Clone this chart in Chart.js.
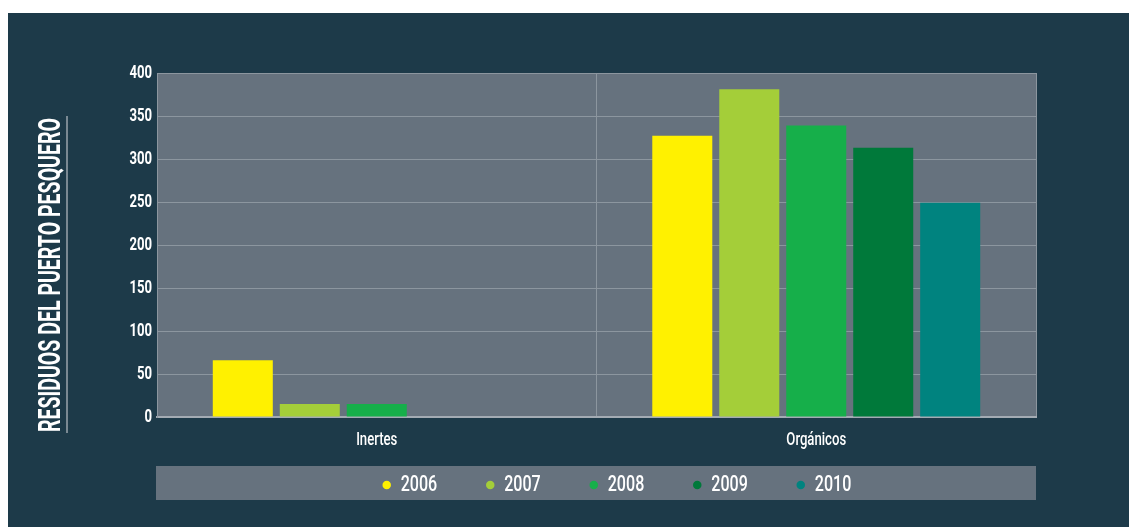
<!DOCTYPE html>
<html>
<head>
<meta charset="utf-8">
<script src="https://cdn.jsdelivr.net/npm/chart.js@4"></script>
<style>
  html, body { margin: 0; padding: 0; background: #ffffff; }
  #wrap { position: absolute; left: 8px; top: 13px; width: 1121px; height: 514px; background: #1D3A49; }
  canvas { display: block; }
</style>
</head>
<body>
<div id="wrap"><canvas id="c" width="1121" height="514"></canvas></div>
<script>
const categories = ["Inertes", "Orgánicos"];
const years = ["2006", "2007", "2008", "2009", "2010"];
const values2006 = [66, 327];
const values2007 = [15, 381];
const values2008 = [15, 339];
const values2009 = [0, 313];
const values2010 = [0, 249];
const yTicks = [0, 50, 100, 150, 200, 250, 300, 350, 400];
const axisTitle = "RESIDUOS DEL PUERTO PESQUERO";

const colors = ["#FFF100", "#A4CE39", "#16AF4A", "#00793A", "#00837F"];
const seriesValues = [values2006, values2007, values2008, values2009, values2010];

const FONT = "Roboto, 'DejaVu Sans Condensed', sans-serif";
const SX = 0.73; // horizontal condensing of all text (reference uses a condensed face)
const LEGEND_FONT = 22, LEGEND_PAD = 50;

const canvas = document.getElementById('c');
const ctx0 = canvas.getContext('2d');
(function condense(ctx) {
  const origFill = ctx.fillText.bind(ctx);
  const origMeasure = ctx.measureText.bind(ctx);
  ctx.fillText = function (text, x, y, maxWidth) {
    ctx.save();
    ctx.translate(x, y);
    ctx.scale(SX, 1);
    if (maxWidth !== undefined) origFill(text, 0, 0, maxWidth / SX);
    else origFill(text, 0, 0);
    ctx.restore();
  };
  ctx.measureText = function (text) {
    const m = origMeasure(text);
    return {
      width: m.width * SX,
      actualBoundingBoxLeft: m.actualBoundingBoxLeft * SX,
      actualBoundingBoxRight: m.actualBoundingBoxRight * SX,
      actualBoundingBoxAscent: m.actualBoundingBoxAscent,
      actualBoundingBoxDescent: m.actualBoundingBoxDescent,
      fontBoundingBoxAscent: m.fontBoundingBoxAscent,
      fontBoundingBoxDescent: m.fontBoundingBoxDescent
    };
  };
})(ctx0);

const bgPlugin = {
  id: 'bgPlugin',
  afterLayout(chart) {
    // place the legend row in the grey band below the axis, shifted right as in the reference
    const a = chart.chartArea;
    const lg = chart.legend;
    const textCenter = a.bottom + 49 + 19;
    lg.left += 41;
    lg.right += 41;
    lg.top = textCenter - LEGEND_PAD - LEGEND_FONT / 2;
    lg.bottom = lg.top + LEGEND_PAD + LEGEND_FONT + 20;
    lg.height = lg.bottom - lg.top;
  },
  beforeDraw(chart) {
    const {ctx, chartArea: a} = chart;
    ctx.save();
    ctx.fillStyle = '#66727E';
    ctx.fillRect(a.left, a.top, a.right - a.left, a.bottom - a.top);
    // legend band
    ctx.fillRect(a.left - 1, a.bottom + 49, a.right - a.left + 1, 34);
    ctx.restore();
  },
  afterDraw(chart) {
    const {ctx} = chart;
    ctx.save();
    const cx = 41, cy = 262, targetLen = 314, size = 31;
    ctx.font = "bold " + size + "px " + FONT;
    const w = ctx.measureText(axisTitle).width;
    const s = targetLen / w;
    ctx.translate(cx, cy);
    ctx.rotate(-Math.PI / 2);
    ctx.scale(s, 1);
    ctx.fillStyle = '#ffffff';
    ctx.textAlign = 'center';
    ctx.textBaseline = 'alphabetic';
    ctx.fillText(axisTitle, 0, size * 0.711 / 2);
    ctx.restore();
    ctx.save();
    ctx.strokeStyle = '#9AA4AD';
    ctx.lineWidth = 1.5;
    ctx.beginPath();
    ctx.moveTo(59, 103);
    ctx.lineTo(59, 420);
    ctx.stroke();
    ctx.restore();
  }
};

new Chart(canvas, {
  type: 'bar',
  data: {
    labels: categories,
    datasets: years.map((y, i) => ({
      label: y,
      data: seriesValues[i],
      backgroundColor: colors[i],
      borderWidth: 0,
      barPercentage: 0.896,
      categoryPercentage: 0.762
    }))
  },
  plugins: [bgPlugin],
  options: {
    responsive: false,
    animation: false,
    devicePixelRatio: 1,
    layout: { padding: { left: 109, right: 93, top: 60, bottom: 44 } },
    plugins: {
      tooltip: { enabled: false },
      title: { display: false },
      legend: {
        position: 'bottom',
        maxHeight: 34,
        labels: {
          color: '#ffffff',
          font: { family: FONT, size: LEGEND_FONT, weight: '500' },
          usePointStyle: true,
          pointStyle: 'circle',
          boxWidth: 6,
          boxHeight: 6,
          padding: LEGEND_PAD
        }
      }
    },
    scales: {
      x: {
        grid: { color: '#8C969F', lineWidth: 1, offset: true, drawTicks: false },
        border: { color: '#A3ABB3', width: 2 },
        ticks: {
          color: '#ffffff',
          font: { family: FONT, size: 18, weight: '500' },
          padding: 13
        },
        afterFit(scale) { scale.height = 32; }
      },
      y: {
        min: 0,
        max: 400,
        afterBuildTicks(scale) { scale.ticks = yTicks.map(v => ({ value: v })); },
        grid: { color: '#8C969F', lineWidth: 1, drawTicks: false },
        border: { color: '#8C969F', width: 1 },
        ticks: {
          color: '#ffffff',
          font: { family: FONT, size: 18, weight: 'bold' },
          padding: 5
        },
        afterFit(scale) { scale.width = 40; }
      }
    }
  }
});
</script>
</body>
</html>
